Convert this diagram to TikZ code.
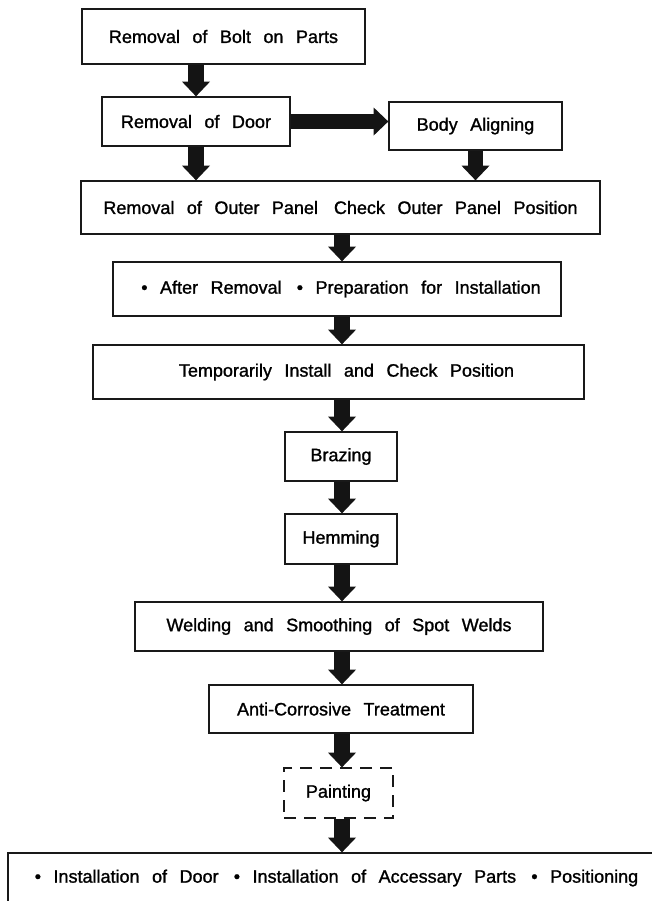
\documentclass[tikz,border=0pt]{standalone}
\usepackage{fontspec}
\setmainfont{Liberation Sans}[WordSpace=2.5, FakeBold=1.2]
\usetikzlibrary{arrows.meta}
\tikzset{
  box/.style 2 args={draw=black!90, line width=1pt, fill=white, inner sep=0pt,
    minimum width=#1*0.75pt, minimum height=#2*0.75pt, font=\fontsize{13.5}{16}\selectfont},
  dbox/.style 2 args={box={#1}{#2}, dash pattern=on 9pt off 6pt},
  fat/.style={draw=black!92, line width=11.5pt,
    -{Triangle[length=11pt, width=21pt, line width=0pt]}},
}
\begin{document}
\begin{tikzpicture}[x=0.75pt, y=-0.75pt]
\useasboundingbox (0,0) rectangle (652,901);
\node[box={283}{55}] (b1) at (223.5,36.5) {Removal of Bolt on Parts};
\node[box={188}{49}] (b2) at (196,121.5) {Removal of Door};
\node[box={173}{48}] (b3) at (475.5,126) {Body Aligning};
\node[box={519}{53}] (b4) at (340.5,207.5) {Removal of Outer Panel\hspace{12pt}Check Outer Panel Position};
\node[box={448}{54}] (b5) at (337,289) {\hspace{6pt}• After Removal\hspace{2pt} • Preparation for Installation};
\node[box={491}{54}] (b6) at (338.5,372) {\hspace{12pt}Temporarily Install and Check Position};
\node[box={112}{49}] (b7) at (341,456.5) {Brazing};
\node[box={112}{50}] (b8) at (341,539) {Hemming};
\node[box={408}{49}] (b9) at (339,626.5) {Welding and Smoothing of Spot Welds};
\node[box={264}{48}] (b10) at (341,709) {Anti-Corrosive Treatment};
\node[dbox={109}{50}] (b11) at (338.5,793) {Painting};
\node[box={657}{50}] (b12) at (336.5,878) {• Installation of Door\hspace{2pt} • Installation of Accessary Parts\hspace{2pt} • Positioning\hspace{4pt}};
\coordinate (mid) at (342,0);
\draw[fat] (b2.north |- b1.south) -- (b2.north);
\draw[fat] (b2.east) -- (b2.east -| b3.west);
\draw[fat] (b2.south) -- (b2.south |- b4.north);
\draw[fat] (b3.south) -- (b3.south |- b4.north);
\draw[fat] (b4.south -| mid) -- (b5.north -| mid);
\draw[fat] (b5.south -| mid) -- (b6.north -| mid);
\draw[fat] (b6.south -| mid) -- (b7.north -| mid);
\draw[fat] (b7.south -| mid) -- (b8.north -| mid);
\draw[fat] (b8.south -| mid) -- (b9.north -| mid);
\draw[fat] (b9.south -| mid) -- (b10.north -| mid);
\draw[fat] (b10.south -| mid) -- (b11.north -| mid);
\draw[fat] (b11.south -| mid) -- (b12.north -| mid);
\end{tikzpicture}
\end{document}
